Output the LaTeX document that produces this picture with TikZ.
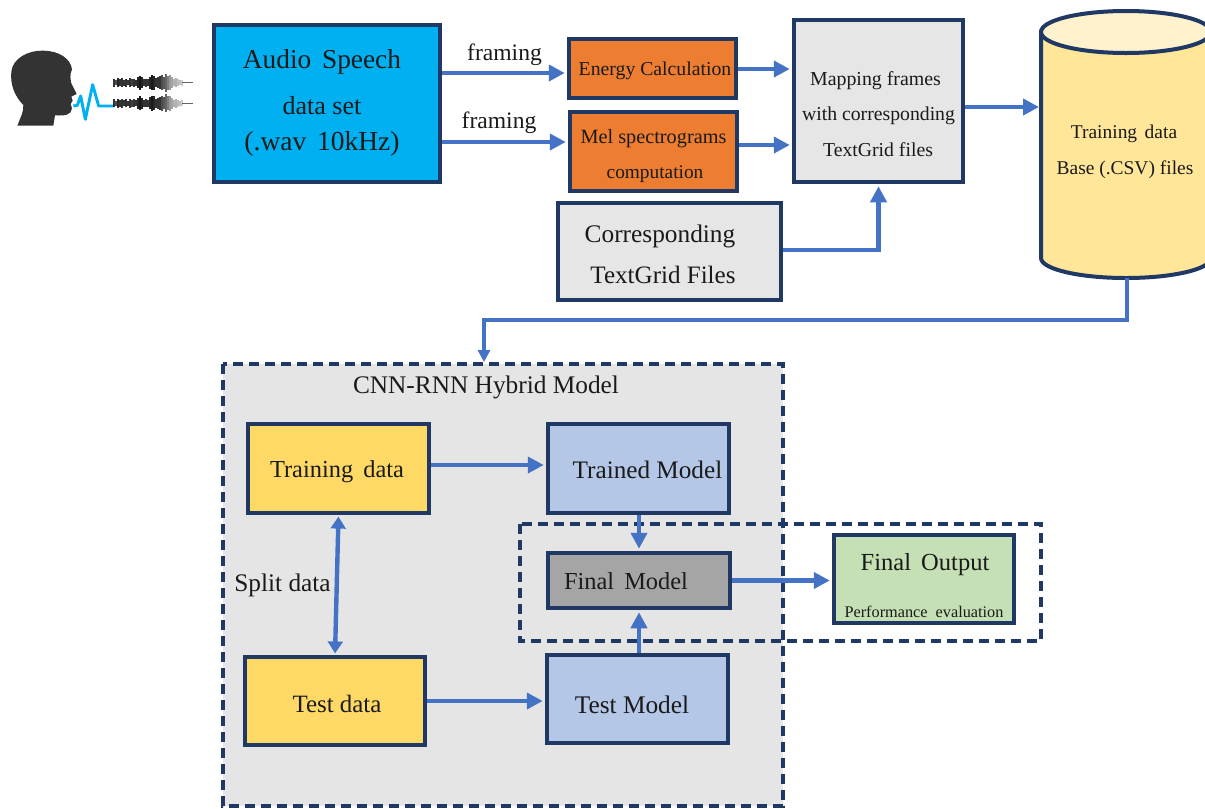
\documentclass[tikz,border=0pt]{standalone}
\usepackage{fontspec}
\setmainfont{Liberation Serif}
\usetikzlibrary{arrows.meta}
\definecolor{navy}{HTML}{1F3864}
\definecolor{flow}{HTML}{4472C4}
\definecolor{sky}{HTML}{00B0F0}
\definecolor{orangeb}{HTML}{ED7D31}
\definecolor{lightg}{HTML}{E7E6E6}
\definecolor{panel}{HTML}{E5E5E5}
\definecolor{yel}{HTML}{FFD966}
\definecolor{cylb}{HTML}{FFE699}
\definecolor{cylt}{HTML}{FFF2CC}
\definecolor{blueb}{HTML}{B4C7E7}
\definecolor{grayb}{HTML}{A5A5A5}
\definecolor{greenb}{HTML}{C5E0B4}
\definecolor{ink}{HTML}{1A1A1A}
\newcommand{\fsz}[1]{\fontsize{#1}{#1}\selectfont}
\tikzset{
  boxstyle/.style={draw=navy,line width=3pt,line join=miter,inner sep=0pt},
  dashbox/.style={draw=navy,line width=2.4pt,dash pattern=on 7.5pt off 4.5pt},
  txt/.style={text=ink,inner sep=0pt,align=center,anchor=center,yshift=-1.5pt},
  flowline/.style={draw=flow,line width=3.3pt,shorten >=1.5pt,-{Triangle[length=12pt,width=12pt]}},
  flowboth/.style={draw=flow,line width=3.3pt,shorten >=1pt,shorten <=1pt,{Triangle[length=9pt,width=11pt]}-{Triangle[length=9pt,width=11pt]}},
  thinflow/.style={draw=flow,line width=2.5pt,-{Triangle[length=9pt,width=9pt]}},
}
\begin{document}
\begin{tikzpicture}[x=0.75pt,y=-0.75pt]
\useasboundingbox (0,0) rectangle (1205,808);
\clip (0,0) rectangle (1205,808);
\fill[white] (0,0) rectangle (1205,808);

% speaker
\begin{scope}[shift={(0,30)},x=0.25pt,y=-0.25pt]
\fill[black!80] (52,287) .. controls (60,265) and (72,245) .. (70,225)
  .. controls (45,200) and (30,165) .. (34,125)
  .. controls (38,85) and (85,60) .. (130,62)
  .. controls (175,62) and (212,85) .. (216,118)
  .. controls (208,135) and (212,150) .. (214,160)
  -- (230,192) -- (214,200) -- (218,212) -- (212,222) -- (216,235)
  .. controls (214,255) and (195,258) .. (165,256)
  -- (160,287) -- cycle;
\draw[sky,line width=2.2pt,line join=round] (220,228) -- (232,226) -- (242,198) -- (256,268) -- (278,164) -- (296,228) -- (342,228);
\foreach \yy in {158,220}{
  \foreach \xx/\hh/\oo in {342/24/.8,348/14/.7,354/28/.85,360/20/.8,366/28/.8,372/18/.8,378/24/.8,384/14/.8,390/26/.8,396/20/.75,402/24/.8,408/18/.8,414/34/.85,420/42/.9,426/34/.85,432/20/.8,438/24/.8,444/20/.8,450/36/.85,456/46/.9,462/42/.85,468/28/.8,474/34/.8,480/38/.8,486/46/.7,492/36/.65,498/54/.6,504/42/.5,510/46/.4,516/32/.35,522/20/.3,528/28/.3,534/20/.25,540/14/.25,546/18/.2}{
    \draw[black,opacity=\oo,line width=1.3pt] (\xx,\yy-\hh/2) -- (\xx,\yy+\hh/2);
  }
  \draw[black!60,line width=.8pt] (546,\yy) -- (578,\yy);
}
\end{scope}

% panels
\path[dashbox,fill=panel] (223,364) rectangle (783,806);
\draw[dashbox] (520,524) rectangle (1041,641);

% cylinder
\path[boxstyle,fill=cylb] (1041,32) -- (1041,258) arc[start angle=180,end angle=0,x radius=85,y radius=20] -- (1211,32) -- cycle;
\path[boxstyle,fill=cylt] (1126,32) ellipse[x radius=85,y radius=21];
\coordinate (cylbottom) at (1127,278);
\coordinate (cylleft) at (1041,107);
\node[txt,font=\fsz{14.6}] (cyltext) at (1124,132) {Training\hspace{2pt} data};
\node[txt,font=\fsz{14.6}] (cyltext2) at (1125,168) {Base (.CSV) files};

% top row boxes
\node[boxstyle,fill=sky,minimum width=226.5pt*.75,minimum height=157.5pt*.75] (audio) at (327,103.5) {};
\node[txt,font=\fsz{20.5}] (audio1) at (322,60) {Audio\hspace{3pt} Speech};
\node[txt,font=\fsz{19.5}] (audio2) at (322,104) {data set};
\node[txt,font=\fsz{20.6}] (audio3) at (322,142) {(.wav\hspace{3pt} 10kHz)};

\node[boxstyle,fill=orangeb,minimum width=167.5pt*.75,minimum height=59.5pt*.75] (energy) at (652.5,68.5) {};
\node[txt,font=\fsz{14.8}] (energyt) at (655,69) {Energy Calculation};
\node[boxstyle,fill=orangeb,minimum width=167.5pt*.75,minimum height=79.5pt*.75] (mel) at (653.5,151.5) {};
\node[txt,font=\fsz{15.2}] (mel1) at (653.5,137) {Mel spectrograms};
\node[txt,font=\fsz{14.5}] (mel2) at (655,172) {computation};

\node[boxstyle,fill=lightg,minimum width=169.5pt*.75,minimum height=162.5pt*.75] (map) at (878.5,101) {};
\node[txt,font=\fsz{14.9}] (map1) at (875.5,79) {Mapping frames};
\node[txt,font=\fsz{14.8}] (map2) at (878.5,114) {with corresponding};
\node[txt,font=\fsz{14.8}] (map3) at (878,148) {TextGrid files};

\node[boxstyle,fill=lightg,minimum width=223.5pt*.75,minimum height=97.5pt*.75] (corr) at (669.5,251.5) {};
\node[txt,font=\fsz{19}] (corr1) at (660,234) {Corresponding};
\node[txt,font=\fsz{18.8}] (corr2) at (663,273) {TextGrid Files};

\node[txt,font=\fsz{17.7}] (fr1) at (504.5,53) {framing};
\node[txt,font=\fsz{17.7}] (fr2) at (499,121) {framing};

% lower boxes
\node[txt,font=\fsz{19}] (hybrid) at (486,385) {CNN-RNN Hybrid Model};
\node[boxstyle,fill=yel,minimum width=181.5pt*.75,minimum height=89.5pt*.75] (train) at (338.5,468.5) {};
\node[txt,font=\fsz{18.3}] (traint) at (337,470) {Training\hspace{3pt} data};
\node[boxstyle,fill=blueb,minimum width=181.5pt*.75,minimum height=89.5pt*.75] (trained) at (638.5,468.5) {};
\node[txt,font=\fsz{18.9}] (trainedt) at (647.5,468) {Trained Model};
\node[boxstyle,fill=grayb,minimum width=182.5pt*.75,minimum height=55.5pt*.75] (final) at (639,580.5) {};
\node[txt,font=\fsz{18.3}] (finalt) at (626,579) {Final\hspace{3pt} Model};
\node[boxstyle,fill=greenb,minimum width=180.5pt*.75,minimum height=88.5pt*.75] (output) at (924,579) {};
\node[txt,font=\fsz{18.4}] (out1) at (925,563) {Final\hspace{3pt} Output};
\node[txt,font=\fsz{12.2}] (out2) at (924,610) {Performance\hspace{3pt} evaluation};
\node[boxstyle,fill=yel,minimum width=180.5pt*.75,minimum height=88.5pt*.75] (test) at (335,701) {};
\node[txt,font=\fsz{18.7}] (testt) at (337,702) {Test data};
\node[boxstyle,fill=blueb,minimum width=181.5pt*.75,minimum height=88.5pt*.75] (testm) at (637.5,699) {};
\node[txt,font=\fsz{19}] (testmt) at (632,703) {Test Model};
\node[txt,font=\fsz{19}] (split) at (282.5,583) {Split data};

% connectors
\draw[flowline] (audio.east |- 0,73) -- (energy.west |- 0,73);
\draw[flowline] (audio.east |- 0,142) -- (mel.west |- 0,142);
\draw[flowline] (energy.east |- 0,69) -- (map.west |- 0,69);
\draw[flowline] (mel.east |- 0,145) -- (map.west |- 0,145);
\draw[flowline] (map.east |- 0,107) -- (cylleft);
\draw[flowline] (corr.east |- 0,250) -| (map.south);
\draw[thinflow] (cylbottom) -- (1127,320) -- (484,320) -- (484,362);
\draw[flowline] (train.east |- 0,465) -- (trained.west |- 0,465);
\draw[flowline] (final.north |- trained.south) -- (final.north);
\draw[flowline] (final.south |- testm.north) -- (final.south);
\draw[flowline] (final.east) -- (output.west |- final.east);
\draw[flowboth] (train.south) -- (test.north);
\draw[flowline] (test.east) -- (testm.west |- test.east);
\end{tikzpicture}
\end{document}
